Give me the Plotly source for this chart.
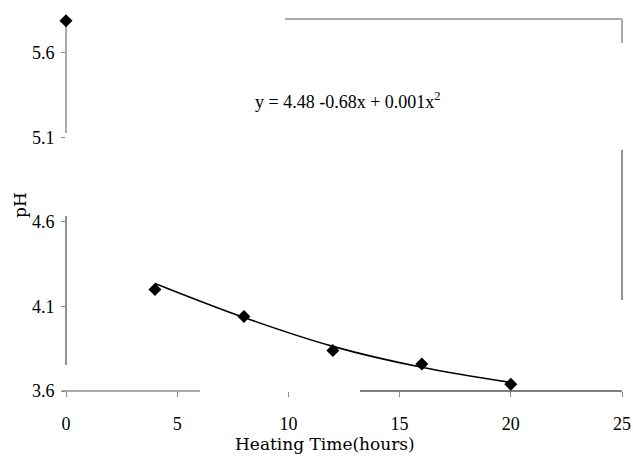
import plotly.graph_objects as go

# Data
heating_time = [0, 4, 8, 12, 16, 20]
ph_values = [5.79, 4.20, 4.04, 3.84, 3.76, 3.64]

fit_time = [4, 8, 12, 16, 20]
fit_ph = [4.236, 4.035, 3.864, 3.74, 3.65]

x_ticks = [0, 5, 10, 15, 20, 25]
y_ticks = [3.6, 4.1, 4.6, 5.1, 5.6]

equation = "y = 4.48 -0.68x + 0.001x<sup>2</sup>"

fig = go.Figure()
fig.add_trace(go.Scatter(
    x=fit_time, y=fit_ph, mode="lines",
    line=dict(color="black", width=1.6, shape="spline"),
    showlegend=False, hoverinfo="skip",
))
fig.add_trace(go.Scatter(
    x=heating_time, y=ph_values, mode="markers",
    marker=dict(symbol="diamond", size=10, color="black"),
    cliponaxis=False, showlegend=False,
))

serif = "Liberation Serif"
# plot area targeted at x 66..622, y 19..391
fig.update_layout(
    width=633, height=460,
    margin=dict(l=66, r=11, t=19, b=69, autoexpand=False),
    paper_bgcolor="white", plot_bgcolor="white",
    font=dict(family=serif, color="black", size=18),
    xaxis=dict(
        range=[0, 25], tickvals=x_ticks, ticktext=[str(v) for v in x_ticks],
        showgrid=False, zeroline=False, showline=False,
        ticks="outside", ticklen=5, tickcolor="#888", ticklabelstandoff=11,
        tickfont=dict(family=serif, size=18),
    ),
    yaxis=dict(
        range=[3.6, 5.8], tickvals=y_ticks, ticktext=[f"{v:.1f}" for v in y_ticks],
        showgrid=False, zeroline=False, showline=False,
        ticks="outside", ticklen=4, tickcolor="#888", ticklabelstandoff=3,
        tickfont=dict(family=serif, size=18),
    ),
    annotations=[
        dict(text="pH", xref="paper", yref="paper", x=(20 - 66) / 556, y=0.5,
             xanchor="center", yanchor="middle", textangle=-90, showarrow=False,
             font=dict(family="DejaVu Serif", size=17)),
        dict(text="Heating Time(hours)", xref="paper", yref="paper",
             x=(325 - 66) / 556, y=-(444 - 391) / 372,
             xanchor="center", yanchor="middle", showarrow=False,
             font=dict(family="DejaVu Serif", size=17)),
        dict(text=equation, xref="paper", yref="paper",
             x=(348 - 66) / 556, y=(391 - 100) / 372,
             xanchor="center", yanchor="middle", showarrow=False,
             font=dict(family=serif, size=18)),
    ],
)

def seg(x0, y0, x1, y1, color, width=1.5):
    fig.add_shape(type="line", xref="paper", yref="paper",
                  x0=x0, y0=y0, x1=x1, y1=y1,
                  line=dict(color=color, width=width), layer="below")

px = lambda p: (p - 66) / 556
py = lambda p: (391 - p) / 372
# left axis
seg(0, py(19), 0, py(133), "#aaaaaa", 2)
seg(0, py(216), 0, py(365), "#555555", 1.3)
# bottom axis
seg(px(62), 0, px(200), 0, "#aaaaaa", 2)
seg(px(360), 0, 1, 0, "#555555", 1.3)
# top frame
seg(px(285), 1, 1, 1, "#aaaaaa", 2)
# right frame
seg(1, 1, 1, py(43), "#aaaaaa", 2)
seg(1, py(150), 1, py(300), "#555555", 1.3)

fig.write_html(
    "out.html",
    config={"displayModeBar": False},
    post_script="document.body.style.margin='0px';document.body.style.overflow='hidden';",
)
